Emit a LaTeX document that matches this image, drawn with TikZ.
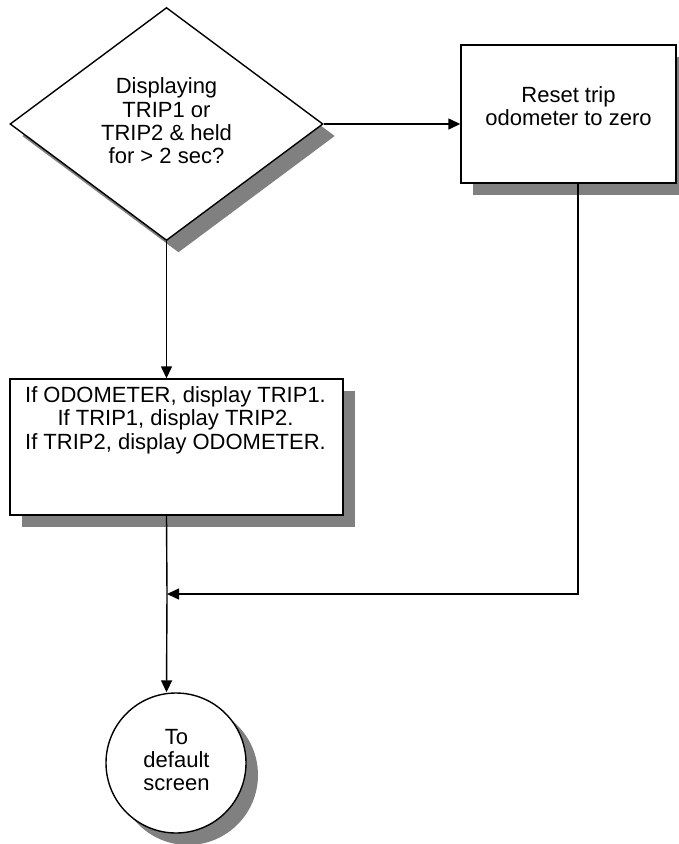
\documentclass[tikz,border=0pt]{standalone}
\usepackage{fontspec}
\setmainfont{Liberation Sans}
\usetikzlibrary{shapes.geometric,arrows.meta,shadows}
\begin{document}
\begin{tikzpicture}[x=1pt,y=-1pt,
  font=\fontsize{22}{23.4}\selectfont,
  outline/.style={draw=black,line width=1.4pt,fill=white,inner sep=0pt,
    drop shadow={shadow xshift=12pt,shadow yshift=-12pt,fill=black!50,opacity=1}},
  stepbox/.style={outline,rectangle},
  decision/.style={outline,diamond,shape aspect=1.34},
  terminal/.style={outline,circle},
  label/.style={align=center,inner sep=0pt},
  flow/.style={draw=black,line width=1.4pt},
  arr/.style={flow,-{Triangle[length=12pt,width=11pt]}}]
\useasboundingbox (0,0) rectangle (679,844);

% shapes
\node[decision,minimum width=313pt,minimum height=233pt] (dia) at (166.5,124) {};
\node[label] (diatext) at (166.5,121) {Displaying\\TRIP1 or\\TRIP2 \& held\\for > 2 sec?};

\node[stepbox,minimum width=215pt,minimum height=138pt] (reset) at (568.5,114) {};
\node[label] (resettext) at (568.5,106) {Reset trip\\odometer to zero};

\node[stepbox,minimum width=333pt,minimum height=136pt] (mid) at (176.5,447) {};
\node[label] (midtext) at (175.5,420) {If ODOMETER, display TRIP1.\\If TRIP1, display TRIP2.\\If TRIP2, display ODOMETER.};

\node[terminal,minimum size=140pt] (end) at (176,763) {};
\node[label] (endtext) at (176.5,760) {To\\default\\screen};

% connectors
\coordinate (turn) at (578,594);
\coordinate (join) at (167,594);
\draw[arr] (dia.east) -- (dia.east -| reset.west);
\draw[arr] (dia.south) -- (dia.south |- mid.north);
\draw[flow] (dia.south |- mid.south) -- (join);
\draw[arr] (join) -- (dia.south |- end.north);
\draw[arr] (turn |- reset.south) -- (turn) -- (join);
\end{tikzpicture}
\end{document}
